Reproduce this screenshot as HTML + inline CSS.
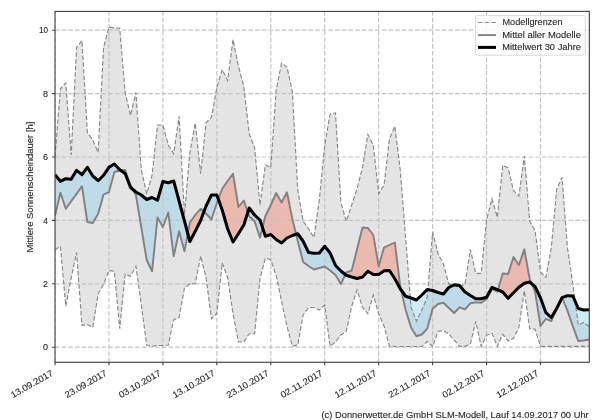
<!DOCTYPE html>
<html><head><meta charset="utf-8"><title>Sonnenscheindauer</title>
<style>html,body{margin:0;padding:0;background:#fff;width:600px;height:420px;overflow:hidden}svg{display:block;font-family:"Liberation Sans",sans-serif}</style>
</head><body>
<svg width="600" height="420" viewBox="0 0 600 420">
<rect width="600" height="420" fill="#fff"/>
<defs><clipPath id="ax"><rect x="55.0" y="11.4" width="534.3" height="350.9"/></clipPath></defs>
<g clip-path="url(#ax)">
<polygon points="55,157 60.39,88.75 65.79,83 71.18,155 76.58,47.5 81.97,40.5 87.37,132.5 92.76,140 98.16,152.5 103.55,47.5 108.94,27 114.34,28 119.73,28 125.13,92.5 130.52,115.5 135.92,92.5 141.31,170 146.7,193.75 152.1,175 157.49,125 162.89,125 168.28,145 173.68,153.75 179.07,116.25 184.47,214.5 189.86,152.5 195.25,123 200.65,173.75 206.04,122.5 211.44,117.5 216.83,87.5 222.23,69.5 227.62,80.5 233.02,39.5 238.41,66.25 243.8,86.25 249.2,133.75 254.59,147.5 259.99,205 265.38,165 270.78,167.5 276.17,90 281.56,63.25 286.96,67 292.35,91.25 297.75,190 303.14,221.25 308.54,228.75 313.93,237.5 319.33,200 324.72,145 330.11,114 335.51,113 340.9,202.5 346.3,221.25 351.69,205 357.09,188.75 362.48,167.5 367.88,134.5 373.27,145 378.66,193.75 384.06,185 389.45,138.75 394.85,126.25 400.24,170 405.64,238 411.03,307.5 416.42,321.25 421.82,310 427.21,297.5 432.61,232 438,253.5 443.4,264 448.79,284 454.19,286 459.58,287 464.97,284 470.37,249.3 475.76,273.3 481.16,273.3 486.55,220 491.95,198.7 497.34,217.3 502.74,165.3 508.13,168 513.52,190.7 518.92,196 524.31,156 529.71,221.3 535.1,230.7 540.5,272 545.89,277.3 551.28,248 556.68,189.3 562.07,177.3 567.47,248 572.86,284 578.26,325 583.65,322.5 589.05,326.5 589.05,346.4 583.65,346.4 578.26,346.4 572.86,346.4 567.47,346.4 562.07,346.4 556.68,346.4 551.28,346.4 545.89,346.4 540.5,346.2 535.1,329.3 529.71,328.8 524.31,290.7 518.92,327.2 513.52,338.3 508.13,341 502.74,334.3 497.34,346.4 491.95,333.3 486.55,335.3 481.16,346.4 475.76,321.3 470.37,344 464.97,346.4 459.58,346.4 454.19,340 448.79,334 443.4,330.7 438,331.3 432.61,346.7 427.21,341.3 421.82,346.5 416.42,346.5 411.03,346.5 405.64,346.5 400.24,346.5 394.85,346.5 389.45,346.25 384.06,326.25 378.66,313.75 373.27,295 367.88,313.75 362.48,307.5 357.09,290 351.69,306.25 346.3,331.25 340.9,335 335.51,342 330.11,346.25 324.72,305 319.33,310 313.93,307.5 308.54,307.5 303.14,315 297.75,345 292.35,346.25 286.96,326.25 281.56,301.25 276.17,275.5 270.78,260 265.38,258 259.99,278.75 254.59,333.75 249.2,333.75 243.8,342 238.41,342 233.02,313.75 227.62,277.5 222.23,263 216.83,313.75 211.44,318.75 206.04,277.5 200.65,256 195.25,283.75 189.86,283.75 184.47,288 179.07,317.5 173.68,320 168.28,345 162.89,345.5 157.49,345.5 152.1,346.25 146.7,345 141.31,305 135.92,266.25 130.52,276.25 125.13,274 119.73,328.75 114.34,271.25 108.94,270.5 103.55,284.5 98.16,293.75 92.76,327.5 87.37,324.5 81.97,325.5 76.58,252.5 71.18,278 65.79,306.25 60.39,246.25 55,250" fill="#e4e4e4" stroke="none"/>
<polygon points="55,174.7 60.39,181.3 65.79,178.7 71.18,179.3 76.58,170.3 81.97,174.7 87.37,167.3 92.76,176 98.16,180.7 103.55,175.3 108.94,167.3 114.34,164 119.73,169.7 120.74,170.41 120.74,170.41 119.73,170.5 114.34,172 108.94,192.2 103.55,194.5 98.16,213.75 92.76,223 87.37,222 81.97,186.3 76.58,193.9 71.18,201.2 65.79,208.75 60.39,192.6 55,216" fill="#87ceeb" fill-opacity="0.4" stroke="none"/>
<polygon points="132.97,189.55 135.92,192 141.31,195 146.7,199.5 152.1,197.5 157.49,200.25 162.89,181.5 168.28,182.7 173.68,181 179.07,201 184.47,221 187.78,233.59 187.78,233.59 184.47,251.25 179.07,231.25 173.68,256.25 168.28,212.5 162.89,227 157.49,217.5 152.1,271.25 146.7,260 141.31,227.5 135.92,195 132.97,189.55" fill="#87ceeb" fill-opacity="0.4" stroke="none"/>
<polygon points="203.94,211.65 206.04,206 211.44,195 216.83,195 218.31,199.1 218.31,199.1 216.83,203 211.44,219.5 206.04,213.5 203.94,211.65" fill="#87ceeb" fill-opacity="0.4" stroke="none"/>
<polygon points="247.84,212.28 249.2,208 254.59,215 259.99,220 262.49,227.53 262.49,227.53 259.99,237.5 254.59,221.25 249.2,216.25 247.84,212.28" fill="#87ceeb" fill-opacity="0.4" stroke="none"/>
<polygon points="296.1,234.28 297.75,233.75 303.14,241.25 308.54,252.5 313.93,253.2 319.33,253 324.72,246.25 330.11,253 335.51,265.5 340.9,271 345.36,274.51 345.36,274.51 340.9,284 335.51,275 330.11,270.5 324.72,266.5 319.33,268 313.93,269.5 308.54,266 303.14,262 297.75,241 296.1,234.28" fill="#87ceeb" fill-opacity="0.4" stroke="none"/>
<polygon points="401.07,289.9 405.64,296.25 411.03,298 416.42,300 421.82,295 427.21,289.5 432.61,290.5 438,292.5 443.4,294 448.79,287.5 454.19,284.75 459.58,285.5 464.97,292 470.37,295.5 475.76,298.7 481.16,298.7 486.55,297.3 491.95,287.5 497.34,289.7 497.87,289.92 497.87,289.92 497.34,291.7 491.95,289 486.55,299 481.16,302.7 475.76,302.4 470.37,303.3 464.97,309.3 459.58,307.3 454.19,313 448.79,308 443.4,302.7 438,304 432.61,308.7 427.21,328.75 421.82,334.5 416.42,336.25 411.03,327.5 405.64,310 401.07,289.9" fill="#87ceeb" fill-opacity="0.4" stroke="none"/>
<polygon points="531.66,283.7 535.1,286.7 540.5,298 545.89,312.7 551.28,317.5 556.68,308.5 560.53,300.79 560.53,300.79 556.68,309 551.28,321 545.89,318.8 540.5,326 535.1,292 531.66,283.7" fill="#87ceeb" fill-opacity="0.4" stroke="none"/>
<polygon points="562.15,297.67 567.47,295.7 572.86,296 578.26,308.5 583.65,310 589.05,309.7 589.05,339.5 583.65,340.5 578.26,341 572.86,326.4 567.47,310.6 562.15,297.67" fill="#87ceeb" fill-opacity="0.4" stroke="none"/>
<polygon points="120.74,170.41 125.13,173.5 130.52,187.5 132.97,189.55 132.97,189.55 130.52,185 125.13,170 120.74,170.41" fill="#f8785f" fill-opacity="0.4" stroke="none"/>
<polygon points="187.78,233.59 189.86,241.5 195.25,231.25 200.65,220.5 203.94,211.65 203.94,211.65 200.65,208.75 195.25,215 189.86,222.5 187.78,233.59" fill="#f8785f" fill-opacity="0.4" stroke="none"/>
<polygon points="218.31,199.1 222.23,210 227.62,228.75 233.02,242 238.41,233.75 243.8,225 247.84,212.28 247.84,212.28 243.8,200.5 238.41,207 233.02,173.75 227.62,181 222.23,188.75 218.31,199.1" fill="#f8785f" fill-opacity="0.4" stroke="none"/>
<polygon points="262.49,227.53 265.38,236.25 270.78,234.5 276.17,239.5 281.56,243 286.96,238 292.35,235.5 296.1,234.28 296.1,234.28 292.35,219 286.96,192.25 281.56,202.5 276.17,193 270.78,205 265.38,216 262.49,227.53" fill="#f8785f" fill-opacity="0.4" stroke="none"/>
<polygon points="345.36,274.51 346.3,275.25 351.69,277 357.09,278.5 362.48,277 367.88,271.25 373.27,274.5 378.66,274.5 384.06,270.75 389.45,270.5 394.85,278.75 400.24,288.75 401.07,289.9 401.07,289.9 400.24,286.25 394.85,242.5 389.45,245 384.06,247.5 378.66,266.25 373.27,235 367.88,228 362.48,227.5 357.09,249 351.69,270.5 346.3,272.5 345.36,274.51" fill="#f8785f" fill-opacity="0.4" stroke="none"/>
<polygon points="497.87,289.92 502.74,292 508.13,298.3 513.52,292.7 518.92,287.3 524.31,283.3 529.71,282 531.66,283.7 531.66,283.7 529.71,279 524.31,249.3 518.92,265 513.52,257 508.13,274 502.74,273.5 497.87,289.92" fill="#f8785f" fill-opacity="0.4" stroke="none"/>
<polygon points="560.53,300.79 562.07,297.7 562.15,297.67 562.15,297.67 562.07,297.5 560.53,300.79" fill="#f8785f" fill-opacity="0.4" stroke="none"/>
<path d="M55 362.3V11.4M108.94 362.3V11.4M162.89 362.3V11.4M216.83 362.3V11.4M270.78 362.3V11.4M324.72 362.3V11.4M378.66 362.3V11.4M432.61 362.3V11.4M486.55 362.3V11.4M540.5 362.3V11.4M55.0 347.2H589.3M55.0 283.8H589.3M55.0 220.4H589.3M55.0 157H589.3M55.0 93.6H589.3M55.0 30.2H589.3" stroke="#c2c2c2" stroke-width="1.2" stroke-dasharray="4.55 2.12" fill="none"/>
<polyline points="55,157 60.39,88.75 65.79,83 71.18,155 76.58,47.5 81.97,40.5 87.37,132.5 92.76,140 98.16,152.5 103.55,47.5 108.94,27 114.34,28 119.73,28 125.13,92.5 130.52,115.5 135.92,92.5 141.31,170 146.7,193.75 152.1,175 157.49,125 162.89,125 168.28,145 173.68,153.75 179.07,116.25 184.47,214.5 189.86,152.5 195.25,123 200.65,173.75 206.04,122.5 211.44,117.5 216.83,87.5 222.23,69.5 227.62,80.5 233.02,39.5 238.41,66.25 243.8,86.25 249.2,133.75 254.59,147.5 259.99,205 265.38,165 270.78,167.5 276.17,90 281.56,63.25 286.96,67 292.35,91.25 297.75,190 303.14,221.25 308.54,228.75 313.93,237.5 319.33,200 324.72,145 330.11,114 335.51,113 340.9,202.5 346.3,221.25 351.69,205 357.09,188.75 362.48,167.5 367.88,134.5 373.27,145 378.66,193.75 384.06,185 389.45,138.75 394.85,126.25 400.24,170 405.64,238 411.03,307.5 416.42,321.25 421.82,310 427.21,297.5 432.61,232 438,253.5 443.4,264 448.79,284 454.19,286 459.58,287 464.97,284 470.37,249.3 475.76,273.3 481.16,273.3 486.55,220 491.95,198.7 497.34,217.3 502.74,165.3 508.13,168 513.52,190.7 518.92,196 524.31,156 529.71,221.3 535.1,230.7 540.5,272 545.89,277.3 551.28,248 556.68,189.3 562.07,177.3 567.47,248 572.86,284 578.26,325 583.65,322.5 589.05,326.5" fill="none" stroke="#878787" stroke-width="1.15" stroke-dasharray="4.55 2.12"/>
<polyline points="55,250 60.39,246.25 65.79,306.25 71.18,278 76.58,252.5 81.97,325.5 87.37,324.5 92.76,327.5 98.16,293.75 103.55,284.5 108.94,270.5 114.34,271.25 119.73,328.75 125.13,274 130.52,276.25 135.92,266.25 141.31,305 146.7,345 152.1,346.25 157.49,345.5 162.89,345.5 168.28,345 173.68,320 179.07,317.5 184.47,288 189.86,283.75 195.25,283.75 200.65,256 206.04,277.5 211.44,318.75 216.83,313.75 222.23,263 227.62,277.5 233.02,313.75 238.41,342 243.8,342 249.2,333.75 254.59,333.75 259.99,278.75 265.38,258 270.78,260 276.17,275.5 281.56,301.25 286.96,326.25 292.35,346.25 297.75,345 303.14,315 308.54,307.5 313.93,307.5 319.33,310 324.72,305 330.11,346.25 335.51,342 340.9,335 346.3,331.25 351.69,306.25 357.09,290 362.48,307.5 367.88,313.75 373.27,295 378.66,313.75 384.06,326.25 389.45,346.25 394.85,346.5 400.24,346.5 405.64,346.5 411.03,346.5 416.42,346.5 421.82,346.5 427.21,341.3 432.61,346.7 438,331.3 443.4,330.7 448.79,334 454.19,340 459.58,346.4 464.97,346.4 470.37,344 475.76,321.3 481.16,346.4 486.55,335.3 491.95,333.3 497.34,346.4 502.74,334.3 508.13,341 513.52,338.3 518.92,327.2 524.31,290.7 529.71,328.8 535.1,329.3 540.5,346.2 545.89,346.4 551.28,346.4 556.68,346.4 562.07,346.4 567.47,346.4 572.86,346.4 578.26,346.4 583.65,346.4 589.05,346.4" fill="none" stroke="#878787" stroke-width="1.15" stroke-dasharray="4.55 2.12"/>
<polyline points="55,216 60.39,192.6 65.79,208.75 71.18,201.2 76.58,193.9 81.97,186.3 87.37,222 92.76,223 98.16,213.75 103.55,194.5 108.94,192.2 114.34,172 119.73,170.5 125.13,170 130.52,185 135.92,195 141.31,227.5 146.7,260 152.1,271.25 157.49,217.5 162.89,227 168.28,212.5 173.68,256.25 179.07,231.25 184.47,251.25 189.86,222.5 195.25,215 200.65,208.75 206.04,213.5 211.44,219.5 216.83,203 222.23,188.75 227.62,181 233.02,173.75 238.41,207 243.8,200.5 249.2,216.25 254.59,221.25 259.99,237.5 265.38,216 270.78,205 276.17,193 281.56,202.5 286.96,192.25 292.35,219 297.75,241 303.14,262 308.54,266 313.93,269.5 319.33,268 324.72,266.5 330.11,270.5 335.51,275 340.9,284 346.3,272.5 351.69,270.5 357.09,249 362.48,227.5 367.88,228 373.27,235 378.66,266.25 384.06,247.5 389.45,245 394.85,242.5 400.24,286.25 405.64,310 411.03,327.5 416.42,336.25 421.82,334.5 427.21,328.75 432.61,308.7 438,304 443.4,302.7 448.79,308 454.19,313 459.58,307.3 464.97,309.3 470.37,303.3 475.76,302.4 481.16,302.7 486.55,299 491.95,289 497.34,291.7 502.74,273.5 508.13,274 513.52,257 518.92,265 524.31,249.3 529.71,279 535.1,292 540.5,326 545.89,318.8 551.28,321 556.68,309 562.07,297.5 567.47,310.6 572.86,326.4 578.26,341 583.65,340.5 589.05,339.5" fill="none" stroke="#808080" stroke-width="1.9" stroke-linejoin="round"/>
<polyline points="55,174.7 60.39,181.3 65.79,178.7 71.18,179.3 76.58,170.3 81.97,174.7 87.37,167.3 92.76,176 98.16,180.7 103.55,175.3 108.94,167.3 114.34,164 119.73,169.7 125.13,173.5 130.52,187.5 135.92,192 141.31,195 146.7,199.5 152.1,197.5 157.49,200.25 162.89,181.5 168.28,182.7 173.68,181 179.07,201 184.47,221 189.86,241.5 195.25,231.25 200.65,220.5 206.04,206 211.44,195 216.83,195 222.23,210 227.62,228.75 233.02,242 238.41,233.75 243.8,225 249.2,208 254.59,215 259.99,220 265.38,236.25 270.78,234.5 276.17,239.5 281.56,243 286.96,238 292.35,235.5 297.75,233.75 303.14,241.25 308.54,252.5 313.93,253.2 319.33,253 324.72,246.25 330.11,253 335.51,265.5 340.9,271 346.3,275.25 351.69,277 357.09,278.5 362.48,277 367.88,271.25 373.27,274.5 378.66,274.5 384.06,270.75 389.45,270.5 394.85,278.75 400.24,288.75 405.64,296.25 411.03,298 416.42,300 421.82,295 427.21,289.5 432.61,290.5 438,292.5 443.4,294 448.79,287.5 454.19,284.75 459.58,285.5 464.97,292 470.37,295.5 475.76,298.7 481.16,298.7 486.55,297.3 491.95,287.5 497.34,289.7 502.74,292 508.13,298.3 513.52,292.7 518.92,287.3 524.31,283.3 529.71,282 535.1,286.7 540.5,298 545.89,312.7 551.28,317.5 556.68,308.5 562.07,297.7 567.47,295.7 572.86,296 578.26,308.5 583.65,310 589.05,309.7" fill="none" stroke="#000" stroke-width="3" stroke-linejoin="round"/>
</g>
<rect x="55.0" y="11.4" width="534.3" height="350.9" fill="none" stroke="#3c3c3c" stroke-width="1.1"/>
<path d="M52.1 347.2H55.0M52.1 283.8H55.0M52.1 220.4H55.0M52.1 157H55.0M52.1 93.6H55.0M52.1 30.2H55.0M55 362.3V365.2M108.94 362.3V365.2M162.89 362.3V365.2M216.83 362.3V365.2M270.78 362.3V365.2M324.72 362.3V365.2M378.66 362.3V365.2M432.61 362.3V365.2M486.55 362.3V365.2M540.5 362.3V365.2" stroke="#3c3c3c" stroke-width="1.1" fill="none"/>
<g opacity="0.999" fill="#262626" stroke="#262626" stroke-width="0.12" font-family="Liberation Sans, sans-serif">
<text x="48.1" y="350.4" font-size="9" text-anchor="end">0</text>
<text x="48.1" y="287" font-size="9" text-anchor="end">2</text>
<text x="48.1" y="223.6" font-size="9" text-anchor="end">4</text>
<text x="48.1" y="160.2" font-size="9" text-anchor="end">6</text>
<text x="48.1" y="96.8" font-size="9" text-anchor="end">8</text>
<text x="48.1" y="33.4" font-size="9" text-anchor="end" textLength="9" lengthAdjust="spacingAndGlyphs">10</text>
<text transform="translate(32.6 187.1) rotate(-90)" font-size="9" text-anchor="middle" textLength="131" lengthAdjust="spacingAndGlyphs">Mittlere Sonnenscheindauer [h]</text>
<text transform="translate(53.7 374.8) rotate(-30)" font-size="9" text-anchor="end" textLength="47" lengthAdjust="spacingAndGlyphs">13.09.2017</text>
<text transform="translate(107.64 374.8) rotate(-30)" font-size="9" text-anchor="end" textLength="47" lengthAdjust="spacingAndGlyphs">23.09.2017</text>
<text transform="translate(161.59 374.8) rotate(-30)" font-size="9" text-anchor="end" textLength="47" lengthAdjust="spacingAndGlyphs">03.10.2017</text>
<text transform="translate(215.53 374.8) rotate(-30)" font-size="9" text-anchor="end" textLength="47" lengthAdjust="spacingAndGlyphs">13.10.2017</text>
<text transform="translate(269.48 374.8) rotate(-30)" font-size="9" text-anchor="end" textLength="47" lengthAdjust="spacingAndGlyphs">23.10.2017</text>
<text transform="translate(323.42 374.8) rotate(-30)" font-size="9" text-anchor="end" textLength="47" lengthAdjust="spacingAndGlyphs">02.11.2017</text>
<text transform="translate(377.36 374.8) rotate(-30)" font-size="9" text-anchor="end" textLength="47" lengthAdjust="spacingAndGlyphs">12.11.2017</text>
<text transform="translate(431.31 374.8) rotate(-30)" font-size="9" text-anchor="end" textLength="47" lengthAdjust="spacingAndGlyphs">22.11.2017</text>
<text transform="translate(485.25 374.8) rotate(-30)" font-size="9" text-anchor="end" textLength="47" lengthAdjust="spacingAndGlyphs">02.12.2017</text>
<text transform="translate(539.2 374.8) rotate(-30)" font-size="9" text-anchor="end" textLength="47" lengthAdjust="spacingAndGlyphs">12.12.2017</text>
<rect x="475.4" y="15.6" width="109.9" height="39.6" rx="2" fill="#fff" fill-opacity="0.82" stroke="#d8d8d8" stroke-width="1"/>
<path d="M478 22.5H496" stroke="#878787" stroke-width="1.15" stroke-dasharray="4.55 2.12"/>
<path d="M478 35.1H496" stroke="#808080" stroke-width="1.9"/>
<path d="M478 47.4H496" stroke="#000" stroke-width="3"/>
<text x="502.5" y="24.8" font-size="8.9" textLength="60" lengthAdjust="spacingAndGlyphs">Modellgrenzen</text>
<text x="502.2" y="37.8" font-size="8.9" textLength="78.8" lengthAdjust="spacingAndGlyphs">Mittel aller Modelle</text>
<text x="502.2" y="49.8" font-size="8.9" textLength="78.8" lengthAdjust="spacingAndGlyphs">Mittelwert 30 Jahre</text>
<text x="321.5" y="418" font-size="8.9" textLength="267.2" lengthAdjust="spacingAndGlyphs">(c) Donnerwetter.de GmbH SLM-Modell, Lauf 14.09.2017 00 Uhr</text>
</g>
</svg>
</body></html>
